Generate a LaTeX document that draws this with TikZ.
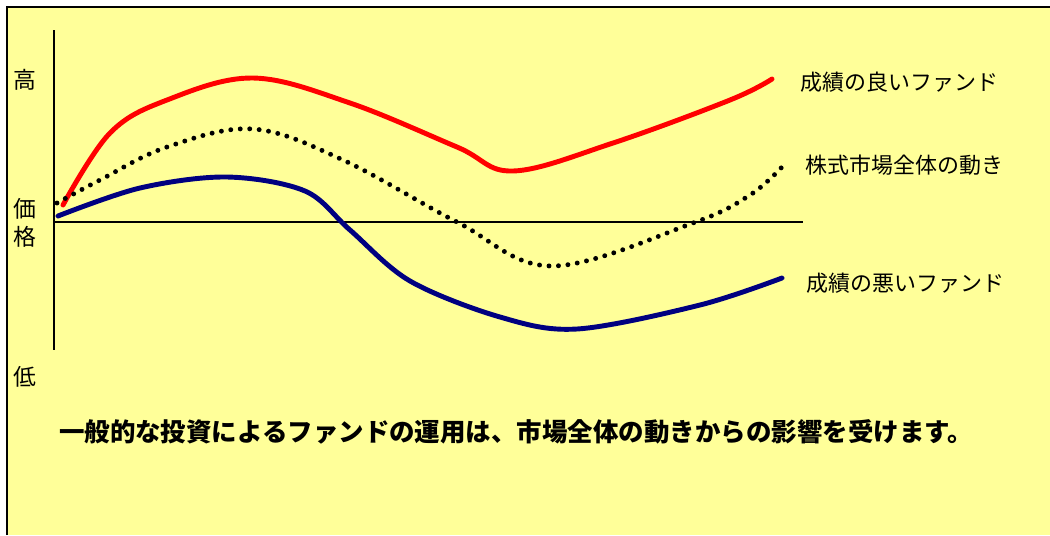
\documentclass[tikz,border=0pt]{standalone}
\usepackage{fontspec}
\setmainfont{Noto Sans CJK JP}
\definecolor{chartbg}{HTML}{FFFF99}
\definecolor{fundblue}{HTML}{000080}
\begin{document}
\begin{tikzpicture}[x=0.02cm, y=-0.02cm, inner sep=0mm,
		labelstyle/.style={font=\fontsize{12.5}{14}\selectfont, anchor=west},
		axisstyle/.style={line width=1.1pt, black},
		fundstyle/.style={line width=2.8pt, line cap=round},
		marketstyle/.style={line width=2.8pt, line cap=round, dash pattern=on 0pt off 5.4pt}]
		\useasboundingbox (0,0) rectangle (1050,535);
		\fill [chartbg] (7,7) rectangle (1050,535);
		\draw [line width=1.2pt] (7,535) -- (7,7) -- (1050,7);

		% axes
		\coordinate (ytop) at (54,30);
		\coordinate (ybot) at (54,350);
		\coordinate (xend) at (803,222);
		\draw [axisstyle] (ytop) -- (ybot);
		\draw [axisstyle] (ytop |- xend) -- (xend);

		% left labels
		\foreach \t/\y/\n in {高/80/high, 価/209/price1, 格/237/price2, 低/377/low}
			\node [font=\fontsize{13}{14}\selectfont] (\n) at (25,\y) {\t};

		% curves
		\draw [fundstyle, red] plot [smooth, tension=0.6] coordinates
			{(63,205) (110,133) (167,100) (253,78) (350,103) (457,147) (513,171) (613,143) (730,100) (772,79)};
		\draw [marketstyle] plot [smooth, tension=0.6] coordinates
			{(57,203) (100,180) (167,147) (253,129) (343,160) (457,222) (552,266) (693,223) (750,195) (782,167)};
		\draw [fundstyle, fundblue] plot [smooth, tension=0.55] coordinates
			{(58,216) (140,188) (227,177) (305,191) (350,230) (410,281) (500,317) (577,329) (700,305) (782,278)};

		% right labels
		\node [labelstyle] (good) at (800,82) {成績の良いファンド};
		\node [labelstyle] (market) at (805,165) {株式市場全体の動き};
		\node [labelstyle] (bad) at (806,283) {成績の悪いファンド};

		\node [font=\fontsize{14.5}{16}\selectfont\bfseries] (note) at (516,432)
			{一般的な投資によるファンドの運用は、市場全体の動きからの影響を受けます。};
\end{tikzpicture}
\end{document}
